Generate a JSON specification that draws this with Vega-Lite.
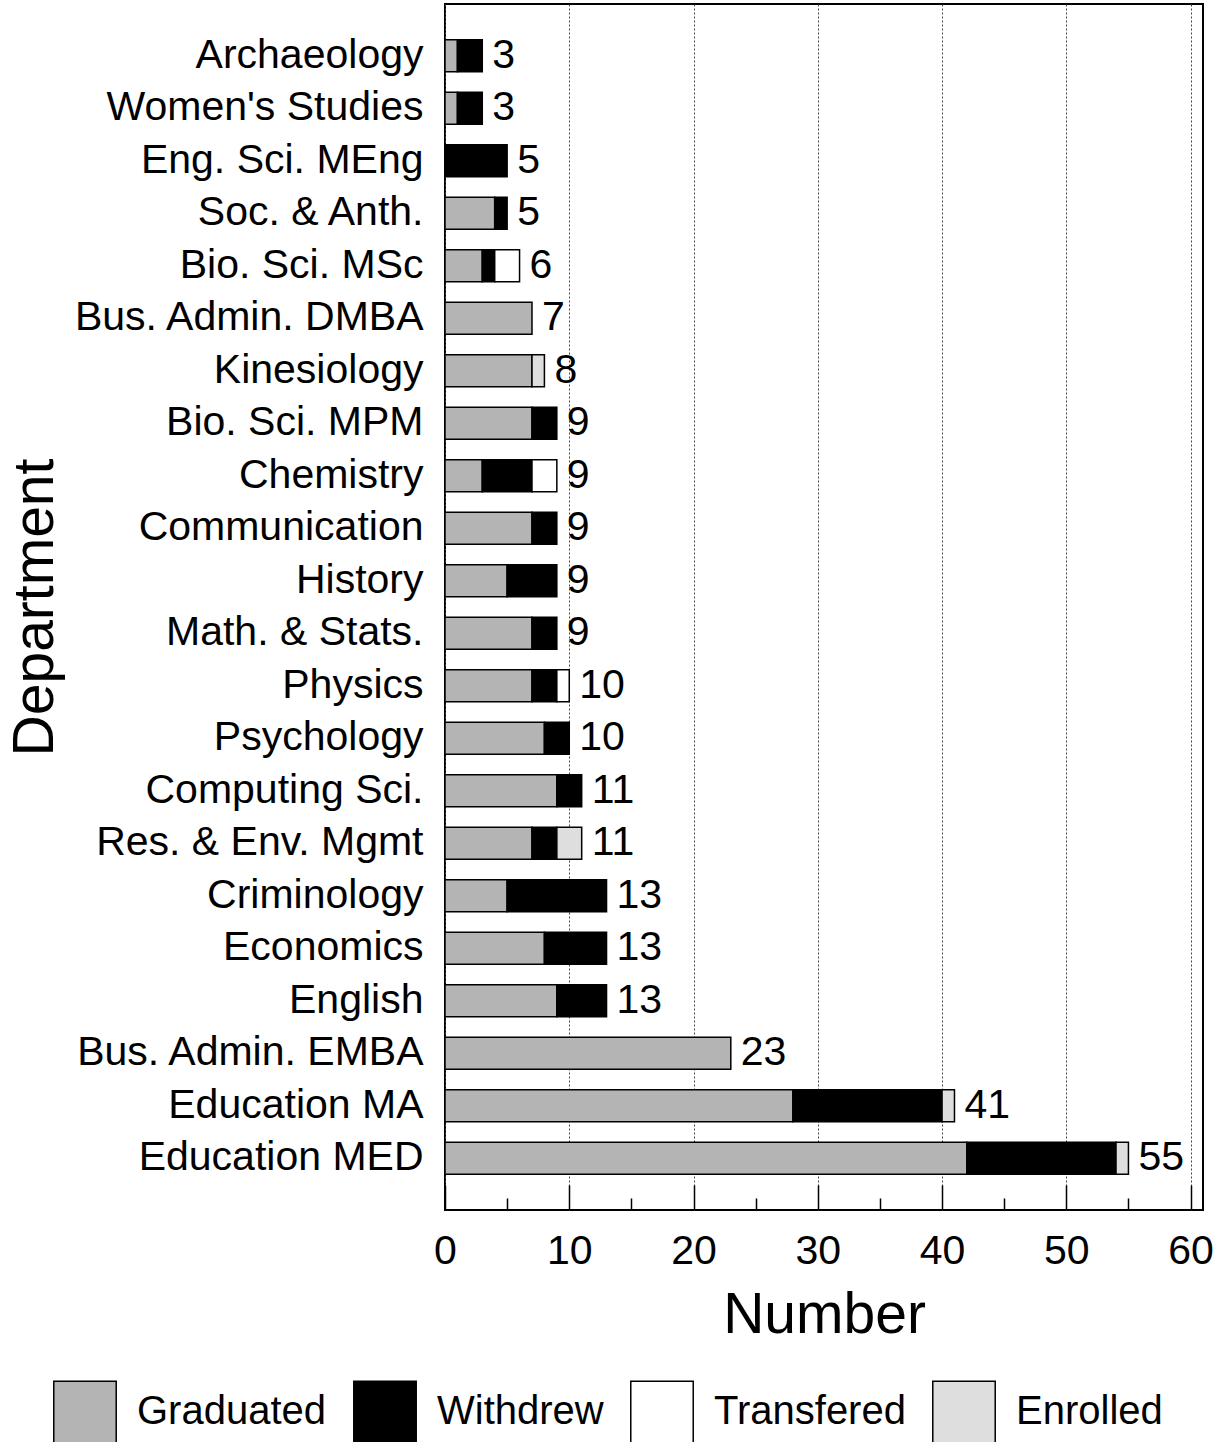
{
  "$schema": "https://vega.github.io/schema/vega-lite/v6.json",
  "autosize": {"type": "none"},
  "padding": {"left": 445, "top": 4, "right": 27, "bottom": 232},
  "width": 758,
  "height": 1206,
  "background": "white",
  "config": {
    "font": "Liberation Sans",
    "view": {"stroke": "black", "strokeWidth": 2},
    "axis": {"labelFont": "Liberation Sans", "titleFont": "Liberation Sans", "labelColor": "black", "titleColor": "black"}
  },
  "resolve": {"axis": {"x": "independent"}},
  "datasets": {
    "statusOrder": [
      {"status": "Graduated", "k": 1},
      {"status": "Withdrew", "k": 2},
      {"status": "Transfered", "k": 3},
      {"status": "Enrolled", "k": 4}
    ]
  },
  "data": {"values": [
    {"dept": "Archaeology", "status": "Graduated", "n": 1},
    {"dept": "Archaeology", "status": "Withdrew", "n": 2},
    {"dept": "Women's Studies", "status": "Graduated", "n": 1},
    {"dept": "Women's Studies", "status": "Withdrew", "n": 2},
    {"dept": "Eng. Sci. MEng", "status": "Withdrew", "n": 5},
    {"dept": "Soc. & Anth.", "status": "Graduated", "n": 4},
    {"dept": "Soc. & Anth.", "status": "Withdrew", "n": 1},
    {"dept": "Bio. Sci. MSc", "status": "Graduated", "n": 3},
    {"dept": "Bio. Sci. MSc", "status": "Withdrew", "n": 1},
    {"dept": "Bio. Sci. MSc", "status": "Transfered", "n": 2},
    {"dept": "Bus. Admin. DMBA", "status": "Graduated", "n": 7},
    {"dept": "Kinesiology", "status": "Graduated", "n": 7},
    {"dept": "Kinesiology", "status": "Enrolled", "n": 1},
    {"dept": "Bio. Sci. MPM", "status": "Graduated", "n": 7},
    {"dept": "Bio. Sci. MPM", "status": "Withdrew", "n": 2},
    {"dept": "Chemistry", "status": "Graduated", "n": 3},
    {"dept": "Chemistry", "status": "Withdrew", "n": 4},
    {"dept": "Chemistry", "status": "Transfered", "n": 2},
    {"dept": "Communication", "status": "Graduated", "n": 7},
    {"dept": "Communication", "status": "Withdrew", "n": 2},
    {"dept": "History", "status": "Graduated", "n": 5},
    {"dept": "History", "status": "Withdrew", "n": 4},
    {"dept": "Math. & Stats.", "status": "Graduated", "n": 7},
    {"dept": "Math. & Stats.", "status": "Withdrew", "n": 2},
    {"dept": "Physics", "status": "Graduated", "n": 7},
    {"dept": "Physics", "status": "Withdrew", "n": 2},
    {"dept": "Physics", "status": "Transfered", "n": 1},
    {"dept": "Psychology", "status": "Graduated", "n": 8},
    {"dept": "Psychology", "status": "Withdrew", "n": 2},
    {"dept": "Computing Sci.", "status": "Graduated", "n": 9},
    {"dept": "Computing Sci.", "status": "Withdrew", "n": 2},
    {"dept": "Res. & Env. Mgmt", "status": "Graduated", "n": 7},
    {"dept": "Res. & Env. Mgmt", "status": "Withdrew", "n": 2},
    {"dept": "Res. & Env. Mgmt", "status": "Enrolled", "n": 2},
    {"dept": "Criminology", "status": "Graduated", "n": 5},
    {"dept": "Criminology", "status": "Withdrew", "n": 8},
    {"dept": "Economics", "status": "Graduated", "n": 8},
    {"dept": "Economics", "status": "Withdrew", "n": 5},
    {"dept": "English", "status": "Graduated", "n": 9},
    {"dept": "English", "status": "Withdrew", "n": 4},
    {"dept": "Bus. Admin. EMBA", "status": "Graduated", "n": 23},
    {"dept": "Education MA", "status": "Graduated", "n": 28},
    {"dept": "Education MA", "status": "Withdrew", "n": 12},
    {"dept": "Education MA", "status": "Enrolled", "n": 1},
    {"dept": "Education MED", "status": "Graduated", "n": 42},
    {"dept": "Education MED", "status": "Withdrew", "n": 12},
    {"dept": "Education MED", "status": "Enrolled", "n": 1}
  ]},
  "transform": [
    {"lookup": "status", "from": {"data": {"name": "statusOrder"}, "key": "status", "fields": ["k"]}}
  ],
  "encoding": {
    "y": {
      "field": "dept", "type": "nominal", "sort": null,
      "scale": {"paddingInner": 0.39, "paddingOuter": 0.68},
      "axis": {"title": "Department", "titleFontSize": 57, "titleFontWeight": "normal",
               "titleX": -410, "titleY": 603, "titleAngle": -90, "titleBaseline": "middle", "titleAlign": "center",
               "labelFontSize": 41, "labelPadding": 22, "ticks": false, "domain": false, "labelLimit": 500}
    }
  },
  "layer": [
    {
      "mark": {"type": "bar", "stroke": "black", "strokeWidth": 1.5},
      "encoding": {
        "x": {"field": "n", "type": "quantitative", "stack": "zero",
              "scale": {"domain": [0, 61], "nice": false},
              "axis": {"orient": "bottom", "values": [0, 10, 20, 30, 40, 50, 60], "tickSize": -25, "tickColor": "black", "tickWidth": 1.5,
                       "grid": true, "gridColor": "#444", "gridDash": [2, 2], "gridWidth": 1,
                       "labelFontSize": 41, "labelPadding": 46, "labelFlush": false, "domain": false,
                       "title": "Number", "titleFontSize": 57, "titleFontWeight": "normal", "titlePadding": 16}},
        "color": {"field": "status", "type": "nominal",
                  "sort": ["Graduated", "Withdrew", "Transfered", "Enrolled"],
                  "scale": {"domain": ["Graduated", "Withdrew", "Transfered", "Enrolled"], "range": ["#b4b4b4", "#000000", "#ffffff", "#dedede"]},
                  "legend": {"title": null, "orient": "none", "direction": "horizontal", "legendX": -392, "legendY": 1376,
                             "symbolType": "square", "symbolSize": 3900, "symbolStrokeColor": "black", "symbolStrokeWidth": 1.5,
                             "labelFontSize": 40, "labelColor": "black", "labelOffset": 20, "columnPadding": 23, "labelLimit": 400}},
        "order": {"field": "k", "type": "quantitative", "sort": "ascending"}
      }
    },
    {
      "mark": {"type": "text", "align": "left", "baseline": "middle", "dx": 10, "fontSize": 41, "color": "black"},
      "transform": [{"aggregate": [{"op": "sum", "field": "n", "as": "total"}], "groupby": ["dept"]}],
      "encoding": {
        "x": {"field": "total", "type": "quantitative",
              "axis": {"orient": "bottom", "values": [5, 15, 25, 35, 45, 55], "tickSize": -12, "tickColor": "black", "tickWidth": 1.5,
                       "labels": false, "grid": false, "domain": false, "title": null}},
        "text": {"field": "total", "type": "quantitative"}
      }
    }
  ]
}
